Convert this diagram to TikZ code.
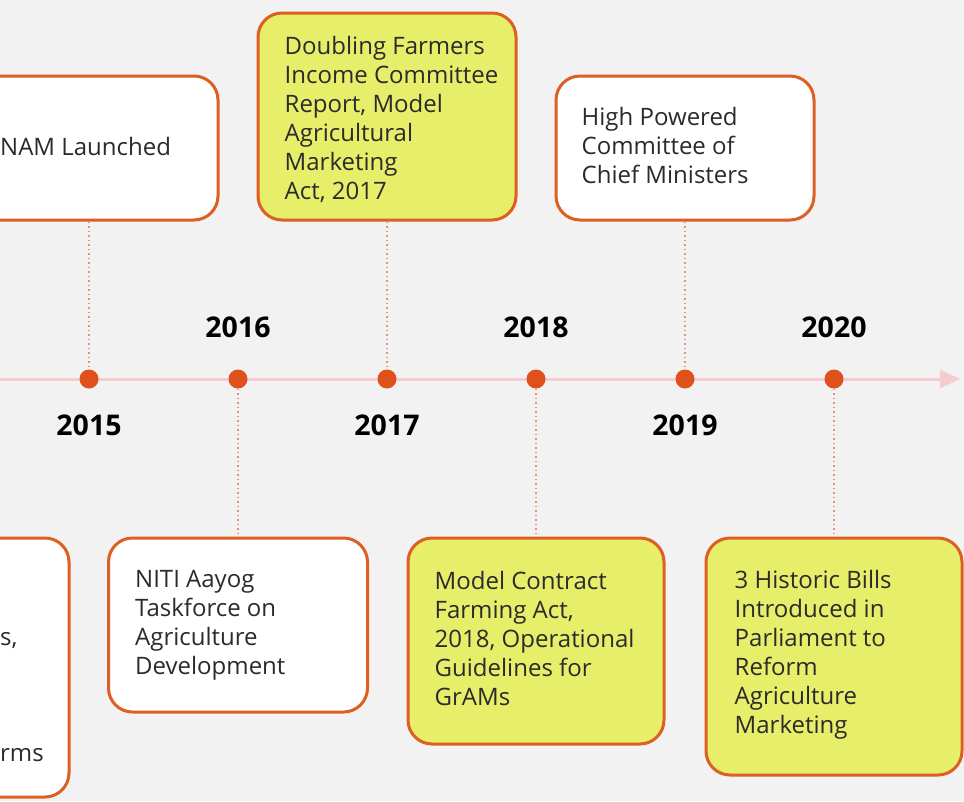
\documentclass[tikz,border=0pt]{standalone}
\usepackage{fontspec}
\setmainfont{Open Sans}
\usetikzlibrary{arrows.meta}
\definecolor{bg}{HTML}{F2F2F2}
\definecolor{edgec}{HTML}{DD5F22}
\definecolor{yel}{HTML}{E6EE6A}
\definecolor{dotc}{HTML}{E0501A}
\definecolor{axisc}{HTML}{F5CCCF}
\definecolor{connc}{HTML}{E8907A}
\definecolor{txtc}{HTML}{2B2B2B}
\begin{document}
\begin{tikzpicture}[x=1pt,y=-1pt,
  box/.style={draw=edgec, line width=3pt, rounded corners=24pt, fill=white, inner sep=0pt},
  ybox/.style={box, fill=yel},
  txt/.style={font=\fontsize{24}{29}\selectfont, text=txtc, align=left, inner sep=0pt, anchor=west},
  year/.style={font=\fontsize{28.5}{32}\selectfont\bfseries, text=black, inner sep=0pt},
  dotn/.style={circle, fill=dotc, minimum size=19pt, inner sep=0pt},
  link/.style={draw=connc, line width=1.4pt, dash pattern=on 1.5pt off 3pt}]
\fill[bg] (0,0) rectangle (964,801);
\useasboundingbox (0,0) rectangle (964,801);
\clip (0,0) rectangle (964,801);
% axis
\coordinate (axs) at (0,379);
\coordinate (axe) at (960,379);
\draw[axisc, line width=3pt, -{Triangle[width=18pt,length=20pt]}] (axs) -- (axe);
% dots
\node[dotn] (d15) at (89,379) {};
\node[dotn] (d16) at (238,379) {};
\node[dotn] (d17) at (387,379) {};
\node[dotn] (d18) at (536,379) {};
\node[dotn] (d19) at (685,379) {};
\node[dotn] (d20) at (834,379) {};
% boxes
\node[box, minimum width=258pt, minimum height=144pt] (b15) at (89,148) {};
\node[ybox, minimum width=258pt, minimum height=207pt] (b17) at (387,116.5) {};
\node[box, minimum width=258pt, minimum height=144pt] (b19) at (685,148) {};
\node[box, minimum width=258pt, minimum height=259pt] (b14) at (-60,667.5) {};
\node[box, minimum width=259pt, minimum height=174pt] (b16) at (238,625) {};
\node[ybox, minimum width=256pt, minimum height=206pt] (b18) at (536,641) {};
\node[ybox, minimum width=256pt, minimum height=237pt] (b20) at (834,656.5) {};
% connectors
\draw[link] (b15.south) -- (d15);
\draw[link] (b17.south) -- (d17);
\draw[link] (b19.south) -- (d19);
\draw[link] (d16) -- (b16.north);
\draw[link] (d18) -- (b18.north);
\draw[link] (d20) -- (b20.north);
% texts
\node[txt] (t15) at (0,146) {NAM Launched};
\node[txt] (t17) at ([xshift=28pt,yshift=-2.5pt]b17.west) {Doubling Farmers\\Income Committee\\Report, Model\\Agricultural\\Marketing\\Act, 2017};
\node[txt] (t19) at ([xshift=27pt,yshift=2.5pt]b19.west) {High Powered\\Committee of\\Chief Ministers};
\node[txt] (t16) at ([xshift=28pt]b16.west) {NITI Aayog\\Taskforce on\\Agriculture\\Development};
\node[txt] (t18) at ([xshift=28pt,yshift=2.5pt]b18.west) {Model Contract\\Farming Act,\\2018, Operational\\Guidelines for\\GrAMs};
\node[txt] (t20) at ([xshift=30pt,yshift=2pt]b20.west) {3 Historic Bills\\Introduced in\\Parliament to\\Reform\\Agriculture\\Marketing};
\node[txt] (f1) at (0,640) {s,};
\node[txt] (f2) at (0,755) {rms};
% years
\node[year] (y15) at (89,425) {2015};
\node[year] (y16) at (238,327) {2016};
\node[year] (y17) at (387,425) {2017};
\node[year] (y18) at (536,327) {2018};
\node[year] (y19) at (685,425) {2019};
\node[year] (y20) at (834,327) {2020};
\end{tikzpicture}
\end{document}
